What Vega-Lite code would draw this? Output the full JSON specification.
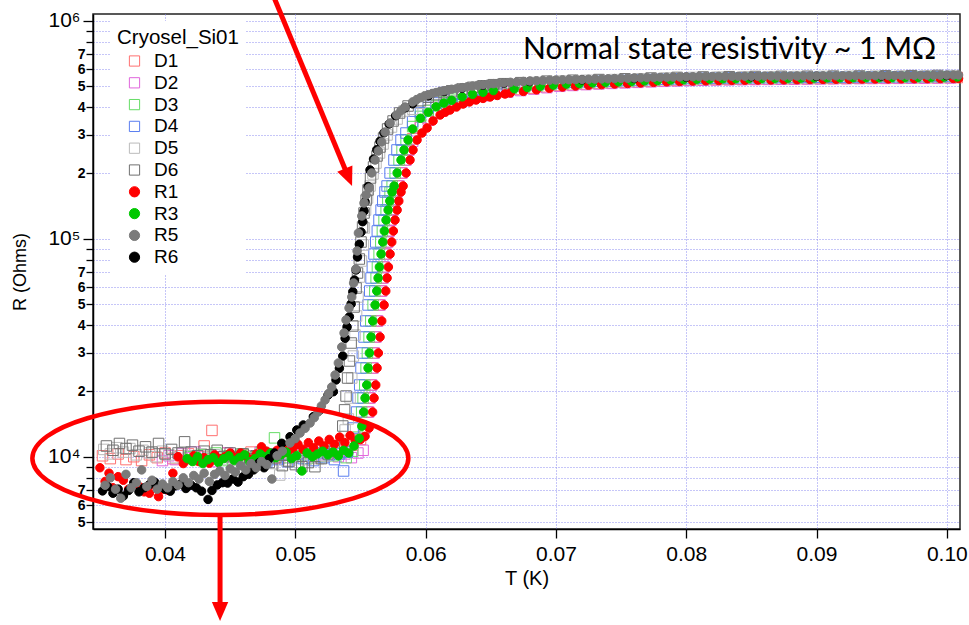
{
"$schema":"https://vega.github.io/schema/vega-lite/v6.json",
"width":867,"height":515,
"autosize":{"type":"none"},
"padding":{"left":93,"top":14,"right":9,"bottom":96},
"config":{"view":{"stroke":"#222","strokeWidth":1.5},"axis":{"labelFont":"Liberation Sans","titleFont":"Liberation Sans"}},
"encoding":{
"x":{"field":"t","type":"quantitative","scale":{"domain":[0.03447,0.10101],"nice":false,"zero":false},
"axis":{"values":[0.04,0.05,0.06,0.07,0.08,0.09,0.1],"format":".2f","title":"T (K)","labelFontSize":21,"labelColor":"#000","labelPadding":5,"labelFlush":false,"labelOverlap":false,"tickSize":9,"tickColor":"#000","tickWidth":1.3,"domainColor":"#000","domainWidth":1.5,"titleFontSize":20,"titleFontWeight":"normal","titleColor":"#000","titlePadding":4,"grid":true,"gridColor":"#8c8cf0","gridDash":[1,2],"gridWidth":1}},
"y":{"field":"r","type":"quantitative","scale":{"type":"log","domain":[4660,1073300],"nice":false},
"axis":{"values":[5000,6000,7000,8000,9000,10000,20000,30000,40000,50000,60000,70000,80000,90000,100000,200000,300000,400000,500000,600000,700000,800000,900000,1000000],
"labelExpr":"datum.value==10000?'10⁴':datum.value==100000?'10⁵':datum.value==1000000?'10⁶':(indexof('89',slice(format(datum.value,'d'),0,1))>=0?'':slice(format(datum.value,'d'),0,1))",
"labelFontSize":{"condition":{"test":"datum.value==10000||datum.value==100000||datum.value==1000000","value":21},"value":14},
"labelFontWeight":{"condition":{"test":"datum.value==10000||datum.value==100000||datum.value==1000000","value":"normal"},"value":"bold"},
"tickSize":{"condition":{"test":"datum.value==10000||datum.value==100000||datum.value==1000000","value":10},"value":7},
"labelPadding":{"condition":{"test":"datum.value==10000||datum.value==100000||datum.value==1000000","value":3},"value":1},
"labelColor":"#000","labelOverlap":false,"labelFlush":false,"tickColor":"#000","tickWidth":1.3,"domainColor":"#000","domainWidth":1.5,
"title":"R (Ohms)","titleFontSize":18,"titleFontWeight":"normal","titleColor":"#000","titlePadding":18,
"grid":true,"gridColor":"#8c8cf0","gridDash":[1,2],"gridWidth":1}}
},
"layer":[
{"data":{"values":[
{"s":"D1","t":0.0352,"r":10100},{"s":"D1","t":0.0358,"r":9800},{"s":"D1","t":0.0364,"r":10300},{"s":"D1","t":0.037,"r":9700},{"s":"D1","t":0.0376,"r":10000},{"s":"D1","t":0.0382,"r":9600},{"s":"D1","t":0.0388,"r":10200},{"s":"D1","t":0.0394,"r":9900},{"s":"D1","t":0.04,"r":10400},{"s":"D1","t":0.0406,"r":9800},{"s":"D1","t":0.0412,"r":10100},{"s":"D1","t":0.0418,"r":10300},{"s":"D1","t":0.0424,"r":9700},{"s":"D1","t":0.043,"r":11200},{"s":"D1","t":0.0436,"r":13200},{"s":"D1","t":0.0442,"r":10000},{"s":"D1","t":0.0448,"r":10400},{"s":"D1","t":0.0454,"r":9900},{"s":"D1","t":0.046,"r":10200},{"s":"D1","t":0.0466,"r":10500},{"s":"D1","t":0.0472,"r":10100},{"s":"D1","t":0.0478,"r":10300},{"s":"D1","t":0.0484,"r":9800},{"s":"D1","t":0.049,"r":10600},{"s":"D1","t":0.0496,"r":10200},{"s":"D1","t":0.0502,"r":10400},{"s":"D1","t":0.0508,"r":10700},{"s":"D1","t":0.0514,"r":10300},{"s":"D1","t":0.052,"r":10900},{"s":"D1","t":0.0526,"r":10500},{"s":"D1","t":0.0532,"r":11000},{"s":"D1","t":0.0538,"r":10600},{"s":"D1","t":0.0544,"r":11300},{"s":"D1","t":0.055,"r":12000},
{"s":"D1","t":0.05528,"r":13540},{"s":"D1","t":0.05555,"r":16030},{"s":"D1","t":0.05566,"r":18590},{"s":"D1","t":0.05579,"r":21330},{"s":"D1","t":0.05589,"r":25520},{"s":"D1","t":0.05599,"r":29900},{"s":"D1","t":0.05612,"r":35410},{"s":"D1","t":0.05625,"r":41940},{"s":"D1","t":0.05643,"r":49660},{"s":"D1","t":0.05656,"r":57560},{"s":"D1","t":0.05666,"r":66030},{"s":"D1","t":0.05676,"r":74180},{"s":"D1","t":0.05689,"r":85080},{"s":"D1","t":0.05702,"r":96580},{"s":"D1","t":0.05714,"r":108500},{"s":"D1","t":0.05727,"r":121800},{"s":"D1","t":0.05743,"r":135400},{"s":"D1","t":0.05756,"r":148900},{"s":"D1","t":0.05773,"r":163800},{"s":"D1","t":0.05789,"r":174500},{"s":"D1","t":0.05812,"r":200200},{"s":"D1","t":0.05842,"r":229600},{"s":"D1","t":0.05865,"r":255300},
{"s":"D1","t":0.059,"r":287100},{"s":"D1","t":0.0596,"r":329600},{"s":"D1","t":0.0602,"r":355600},{"s":"D1","t":0.0608,"r":381400},{"s":"D1","t":0.0614,"r":399800},{"s":"D1","t":0.062,"r":413900},{"s":"D1","t":0.0628,"r":431700},{"s":"D1","t":0.0636,"r":445000},{"s":"D1","t":0.0644,"r":455900},{"s":"D1","t":0.0652,"r":465200},
{"s":"D1","t":0.066,"r":476300},{"s":"D1","t":0.067,"r":483500},{"s":"D1","t":0.068,"r":490700},{"s":"D1","t":0.069,"r":497400},{"s":"D1","t":0.07,"r":504200},{"s":"D1","t":0.071,"r":508300},{"s":"D1","t":0.072,"r":512500},{"s":"D1","t":0.073,"r":515600},{"s":"D1","t":0.074,"r":518600},{"s":"D1","t":0.075,"r":521400},{"s":"D1","t":0.076,"r":524300},{"s":"D1","t":0.077,"r":527000},{"s":"D1","t":0.078,"r":529800},{"s":"D1","t":0.079,"r":532000},{"s":"D1","t":0.08,"r":534300},{"s":"D1","t":0.081,"r":535600},{"s":"D1","t":0.082,"r":537000},{"s":"D1","t":0.083,"r":537900},{"s":"D1","t":0.084,"r":538800},{"s":"D1","t":0.085,"r":539500},{"s":"D1","t":0.086,"r":540100},{"s":"D1","t":0.087,"r":540800},{"s":"D1","t":0.088,"r":541400},{"s":"D1","t":0.089,"r":542100},{"s":"D1","t":0.09,"r":542700},{"s":"D1","t":0.091,"r":543400},{"s":"D1","t":0.092,"r":544000},{"s":"D1","t":0.093,"r":544500},{"s":"D1","t":0.094,"r":545000},{"s":"D1","t":0.095,"r":545400},{"s":"D1","t":0.096,"r":545900},{"s":"D1","t":0.097,"r":546400},{"s":"D1","t":0.098,"r":547000},{"s":"D1","t":0.099,"r":547500},{"s":"D1","t":0.1,"r":548000},{"s":"D1","t":0.1008,"r":548400},
{"s":"D2","t":0.0398,"r":9600},{"s":"D2","t":0.0403,"r":10100},{"s":"D2","t":0.0408,"r":9700},{"s":"D2","t":0.0413,"r":10300},{"s":"D2","t":0.0418,"r":9900},{"s":"D2","t":0.0423,"r":10500},{"s":"D2","t":0.0428,"r":9800},{"s":"D2","t":0.0433,"r":10200},{"s":"D2","t":0.0438,"r":9500},{"s":"D2","t":0.0443,"r":10000},{"s":"D2","t":0.0448,"r":10400},{"s":"D2","t":0.0453,"r":9900},{"s":"D2","t":0.0458,"r":10300},{"s":"D2","t":0.0463,"r":9700},{"s":"D2","t":0.0468,"r":10100},{"s":"D2","t":0.0473,"r":10500},{"s":"D2","t":0.0478,"r":10000},{"s":"D2","t":0.0483,"r":10300},{"s":"D2","t":0.0488,"r":9800},{"s":"D2","t":0.0493,"r":10200},{"s":"D2","t":0.0498,"r":10600},{"s":"D2","t":0.0503,"r":10000},{"s":"D2","t":0.0508,"r":10400},{"s":"D2","t":0.0513,"r":9900},{"s":"D2","t":0.0518,"r":10300},{"s":"D2","t":0.0523,"r":10100},{"s":"D2","t":0.0528,"r":10500},{"s":"D2","t":0.0533,"r":10000},{"s":"D2","t":0.0538,"r":10300},{"s":"D2","t":0.0543,"r":9900},{"s":"D2","t":0.0548,"r":10400},{"s":"D2","t":0.0552,"r":10700},
{"s":"D2","t":0.05535,"r":13540},{"s":"D2","t":0.05562,"r":16030},{"s":"D2","t":0.05573,"r":18590},{"s":"D2","t":0.05586,"r":21330},{"s":"D2","t":0.05596,"r":25520},{"s":"D2","t":0.05606,"r":29900},{"s":"D2","t":0.05619,"r":35410},{"s":"D2","t":0.05632,"r":41940},{"s":"D2","t":0.0565,"r":49660},{"s":"D2","t":0.05663,"r":57560},{"s":"D2","t":0.05673,"r":66030},{"s":"D2","t":0.05683,"r":74180},{"s":"D2","t":0.05696,"r":85080},{"s":"D2","t":0.05709,"r":96580},{"s":"D2","t":0.05721,"r":108500},{"s":"D2","t":0.05734,"r":121800},{"s":"D2","t":0.0575,"r":135400},{"s":"D2","t":0.05763,"r":148900},{"s":"D2","t":0.0578,"r":163800},{"s":"D2","t":0.05796,"r":174500},{"s":"D2","t":0.05819,"r":200200},{"s":"D2","t":0.05849,"r":229600},{"s":"D2","t":0.05872,"r":255300},
{"s":"D2","t":0.059,"r":279700},{"s":"D2","t":0.0596,"r":323200},{"s":"D2","t":0.0602,"r":349600},{"s":"D2","t":0.0608,"r":376200},{"s":"D2","t":0.0614,"r":395100},{"s":"D2","t":0.062,"r":409500},{"s":"D2","t":0.0628,"r":428000},{"s":"D2","t":0.0636,"r":441600},{"s":"D2","t":0.0644,"r":452700},{"s":"D2","t":0.0652,"r":462200},
{"s":"D2","t":0.0663,"r":470600},{"s":"D2","t":0.0673,"r":478100},{"s":"D2","t":0.0683,"r":485600},{"s":"D2","t":0.0693,"r":492900},{"s":"D2","t":0.0703,"r":500100},{"s":"D2","t":0.0713,"r":504600},{"s":"D2","t":0.0723,"r":509100},{"s":"D2","t":0.0733,"r":512300},{"s":"D2","t":0.0743,"r":515600},{"s":"D2","t":0.0753,"r":518500},{"s":"D2","t":0.0763,"r":521400},{"s":"D2","t":0.0773,"r":524200},{"s":"D2","t":0.0783,"r":527100},{"s":"D2","t":0.0793,"r":529400},{"s":"D2","t":0.0803,"r":531800},{"s":"D2","t":0.0813,"r":533200},{"s":"D2","t":0.0823,"r":534600},{"s":"D2","t":0.0833,"r":535500},{"s":"D2","t":0.0843,"r":536500},{"s":"D2","t":0.0853,"r":537200},{"s":"D2","t":0.0863,"r":537900},{"s":"D2","t":0.0873,"r":538600},{"s":"D2","t":0.0883,"r":539200},{"s":"D2","t":0.0893,"r":540000},{"s":"D2","t":0.0903,"r":540600},{"s":"D2","t":0.0913,"r":541300},{"s":"D2","t":0.0923,"r":542000},{"s":"D2","t":0.0933,"r":542500},{"s":"D2","t":0.0943,"r":543000},{"s":"D2","t":0.0953,"r":543500},{"s":"D2","t":0.0963,"r":543900},{"s":"D2","t":0.0973,"r":544500},{"s":"D2","t":0.0983,"r":545000},{"s":"D2","t":0.0993,"r":545500},{"s":"D2","t":0.1003,"r":546000},
{"s":"D3","t":0.0419,"r":10000},{"s":"D3","t":0.0424,"r":9700},{"s":"D3","t":0.0429,"r":10200},{"s":"D3","t":0.0434,"r":9800},{"s":"D3","t":0.0439,"r":10400},{"s":"D3","t":0.0444,"r":9600},{"s":"D3","t":0.0449,"r":10100},{"s":"D3","t":0.0454,"r":9900},{"s":"D3","t":0.0459,"r":10300},{"s":"D3","t":0.0464,"r":9700},{"s":"D3","t":0.0469,"r":10000},{"s":"D3","t":0.0474,"r":10500},{"s":"D3","t":0.0479,"r":9800},{"s":"D3","t":0.0484,"r":12200},{"s":"D3","t":0.0489,"r":10200},{"s":"D3","t":0.0494,"r":9900},{"s":"D3","t":0.0499,"r":10400},{"s":"D3","t":0.0504,"r":10100},{"s":"D3","t":0.0509,"r":9800},{"s":"D3","t":0.0514,"r":10300},{"s":"D3","t":0.0519,"r":10000},{"s":"D3","t":0.0524,"r":10500},{"s":"D3","t":0.0529,"r":10100},{"s":"D3","t":0.0534,"r":10400},{"s":"D3","t":0.0539,"r":9900},{"s":"D3","t":0.0544,"r":10600},{"s":"D3","t":0.0548,"r":12300},
{"s":"D3","t":0.05509,"r":16030},{"s":"D3","t":0.0552,"r":18590},{"s":"D3","t":0.05533,"r":21330},{"s":"D3","t":0.05543,"r":25520},{"s":"D3","t":0.05553,"r":29900},{"s":"D3","t":0.05566,"r":35410},{"s":"D3","t":0.05579,"r":41940},{"s":"D3","t":0.05597,"r":49660},{"s":"D3","t":0.0561,"r":57560},{"s":"D3","t":0.0562,"r":66030},{"s":"D3","t":0.0563,"r":74180},{"s":"D3","t":0.05643,"r":85080},{"s":"D3","t":0.05656,"r":96580},{"s":"D3","t":0.05668,"r":108500},{"s":"D3","t":0.05681,"r":121800},{"s":"D3","t":0.05697,"r":135400},{"s":"D3","t":0.0571,"r":148900},{"s":"D3","t":0.05727,"r":163800},{"s":"D3","t":0.05743,"r":174500},{"s":"D3","t":0.05766,"r":200200},{"s":"D3","t":0.05796,"r":229600},{"s":"D3","t":0.05819,"r":255300},{"s":"D3","t":0.0585,"r":283700},
{"s":"D3","t":0.059,"r":326900},{"s":"D3","t":0.0596,"r":363900},{"s":"D3","t":0.0602,"r":386800},{"s":"D3","t":0.0608,"r":408300},{"s":"D3","t":0.0614,"r":424000},{"s":"D3","t":0.062,"r":436200},{"s":"D3","t":0.0628,"r":451200},{"s":"D3","t":0.0636,"r":463000},{"s":"D3","t":0.0644,"r":472800},{"s":"D3","t":0.0652,"r":481000},
{"s":"D3","t":0.0666,"r":490600},{"s":"D3","t":0.0676,"r":497000},{"s":"D3","t":0.0686,"r":503400},{"s":"D3","t":0.0696,"r":508900},{"s":"D3","t":0.0706,"r":514300},{"s":"D3","t":0.0716,"r":517700},{"s":"D3","t":0.0726,"r":521000},{"s":"D3","t":0.0736,"r":523600},{"s":"D3","t":0.0746,"r":526300},{"s":"D3","t":0.0756,"r":528900},{"s":"D3","t":0.0766,"r":531500},{"s":"D3","t":0.0776,"r":534000},{"s":"D3","t":0.0786,"r":536500},{"s":"D3","t":0.0796,"r":538500},{"s":"D3","t":0.0806,"r":540500},{"s":"D3","t":0.0816,"r":541800},{"s":"D3","t":0.0826,"r":543000},{"s":"D3","t":0.0836,"r":543800},{"s":"D3","t":0.0846,"r":544500},{"s":"D3","t":0.0856,"r":545200},{"s":"D3","t":0.0866,"r":545800},{"s":"D3","t":0.0876,"r":546300},{"s":"D3","t":0.0886,"r":546800},{"s":"D3","t":0.0896,"r":547400},{"s":"D3","t":0.0906,"r":547900},{"s":"D3","t":0.0916,"r":548500},{"s":"D3","t":0.0926,"r":549000},{"s":"D3","t":0.0936,"r":549500},{"s":"D3","t":0.0946,"r":549900},{"s":"D3","t":0.0956,"r":550400},{"s":"D3","t":0.0966,"r":550800},{"s":"D3","t":0.0976,"r":551400},{"s":"D3","t":0.0986,"r":551900},{"s":"D3","t":0.0996,"r":552500},{"s":"D3","t":0.1006,"r":553000},
{"s":"D4","t":0.047,"r":9600},{"s":"D4","t":0.0474,"r":9900},{"s":"D4","t":0.0478,"r":9400},{"s":"D4","t":0.0482,"r":10100},{"s":"D4","t":0.0486,"r":9700},{"s":"D4","t":0.049,"r":10200},{"s":"D4","t":0.0494,"r":9500},{"s":"D4","t":0.0498,"r":9900},{"s":"D4","t":0.0502,"r":10300},{"s":"D4","t":0.0506,"r":9800},{"s":"D4","t":0.051,"r":10100},{"s":"D4","t":0.0514,"r":9600},{"s":"D4","t":0.0518,"r":10400},{"s":"D4","t":0.0522,"r":9900},{"s":"D4","t":0.0526,"r":10200},{"s":"D4","t":0.053,"r":9700},{"s":"D4","t":0.0534,"r":10300},{"s":"D4","t":0.0537,"r":8600},{"s":"D4","t":0.054,"r":10500},
{"s":"D4","t":0.05443,"r":13540},{"s":"D4","t":0.0547,"r":16030},{"s":"D4","t":0.05481,"r":18590},{"s":"D4","t":0.05494,"r":21330},{"s":"D4","t":0.05504,"r":25520},{"s":"D4","t":0.05514,"r":29900},{"s":"D4","t":0.05527,"r":35410},{"s":"D4","t":0.0554,"r":41940},{"s":"D4","t":0.05558,"r":49660},{"s":"D4","t":0.05571,"r":57560},{"s":"D4","t":0.05581,"r":66030},{"s":"D4","t":0.05591,"r":74180},{"s":"D4","t":0.05604,"r":85080},{"s":"D4","t":0.05617,"r":96580},{"s":"D4","t":0.05629,"r":108500},{"s":"D4","t":0.05642,"r":121800},{"s":"D4","t":0.05658,"r":135400},{"s":"D4","t":0.05671,"r":148900},{"s":"D4","t":0.05688,"r":163800},{"s":"D4","t":0.05704,"r":174500},{"s":"D4","t":0.05727,"r":200200},{"s":"D4","t":0.05757,"r":229600},{"s":"D4","t":0.0578,"r":255300},{"s":"D4","t":0.05811,"r":283700},{"s":"D4","t":0.05849,"r":305300},
{"s":"D4","t":0.059,"r":344400},{"s":"D4","t":0.0596,"r":378600},{"s":"D4","t":0.0602,"r":400100},{"s":"D4","t":0.0608,"r":419700},{"s":"D4","t":0.0614,"r":434200},{"s":"D4","t":0.062,"r":445600},{"s":"D4","t":0.0628,"r":459300},{"s":"D4","t":0.0636,"r":470400},{"s":"D4","t":0.0644,"r":479800},{"s":"D4","t":0.0652,"r":487400},
{"s":"D4","t":0.0662,"r":496300},{"s":"D4","t":0.0672,"r":502400},{"s":"D4","t":0.0682,"r":508500},{"s":"D4","t":0.0692,"r":513400},{"s":"D4","t":0.0702,"r":518400},{"s":"D4","t":0.0712,"r":521400},{"s":"D4","t":0.0722,"r":524400},{"s":"D4","t":0.0732,"r":526800},{"s":"D4","t":0.0742,"r":529300},{"s":"D4","t":0.0752,"r":531800},{"s":"D4","t":0.0762,"r":534400},{"s":"D4","t":0.0772,"r":536800},{"s":"D4","t":0.0782,"r":539200},{"s":"D4","t":0.0792,"r":541100},{"s":"D4","t":0.0802,"r":543000},{"s":"D4","t":0.0812,"r":544200},{"s":"D4","t":0.0822,"r":545400},{"s":"D4","t":0.0832,"r":546100},{"s":"D4","t":0.0842,"r":546800},{"s":"D4","t":0.0852,"r":547400},{"s":"D4","t":0.0862,"r":548000},{"s":"D4","t":0.0872,"r":548500},{"s":"D4","t":0.0882,"r":548900},{"s":"D4","t":0.0892,"r":549500},{"s":"D4","t":0.0902,"r":550000},{"s":"D4","t":0.0912,"r":550500},{"s":"D4","t":0.0922,"r":551000},{"s":"D4","t":0.0932,"r":551400},{"s":"D4","t":0.0942,"r":551900},{"s":"D4","t":0.0952,"r":552300},{"s":"D4","t":0.0962,"r":552800},{"s":"D4","t":0.0972,"r":553300},{"s":"D4","t":0.0982,"r":553900},{"s":"D4","t":0.0992,"r":554400},{"s":"D4","t":0.1002,"r":555000},
{"s":"D5","t":0.0353,"r":10800},{"s":"D5","t":0.0358,"r":10300},{"s":"D5","t":0.0363,"r":11000},{"s":"D5","t":0.0368,"r":10500},{"s":"D5","t":0.0373,"r":10900},{"s":"D5","t":0.0378,"r":10200},{"s":"D5","t":0.0383,"r":10700},{"s":"D5","t":0.0388,"r":10400},{"s":"D5","t":0.0393,"r":10000},{"s":"D5","t":0.0398,"r":10600},{"s":"D5","t":0.0403,"r":10200},{"s":"D5","t":0.0408,"r":9900},{"s":"D5","t":0.0413,"r":10400},{"s":"D5","t":0.0418,"r":10100},{"s":"D5","t":0.0423,"r":9800},{"s":"D5","t":0.0428,"r":10300},{"s":"D5","t":0.0433,"r":9900},{"s":"D5","t":0.0438,"r":10200},{"s":"D5","t":0.0443,"r":9700},{"s":"D5","t":0.0448,"r":10000},{"s":"D5","t":0.0453,"r":9600},{"s":"D5","t":0.0458,"r":9900},{"s":"D5","t":0.0463,"r":9500},{"s":"D5","t":0.0468,"r":9800},{"s":"D5","t":0.0473,"r":9400},{"s":"D5","t":0.0478,"r":9700},{"s":"D5","t":0.0483,"r":9300},{"s":"D5","t":0.0488,"r":8240},{"s":"D5","t":0.0493,"r":9600},{"s":"D5","t":0.0498,"r":9900},{"s":"D5","t":0.0503,"r":9400},{"s":"D5","t":0.0508,"r":9700},{"s":"D5","t":0.0513,"r":10000},{"s":"D5","t":0.0518,"r":9800},{"s":"D5","t":0.0523,"r":10100},{"s":"D5","t":0.0528,"r":10400},{"s":"D5","t":0.0533,"r":10800},
{"s":"D5","t":0.05382,"r":13260},{"s":"D5","t":0.05407,"r":14890},{"s":"D5","t":0.0542,"r":18590},{"s":"D5","t":0.05433,"r":22960},{"s":"D5","t":0.05445,"r":28960},{"s":"D5","t":0.05458,"r":36160},{"s":"D5","t":0.0547,"r":44200},{"s":"D5","t":0.05481,"r":54030},{"s":"D5","t":0.05491,"r":66740},{"s":"D5","t":0.05507,"r":79030},{"s":"D5","t":0.05522,"r":93560},{"s":"D5","t":0.0553,"r":112000},{"s":"D5","t":0.05539,"r":135400},{"s":"D5","t":0.05554,"r":153700},{"s":"D5","t":0.05573,"r":174500},{"s":"D5","t":0.05596,"r":198100},{"s":"D5","t":0.05619,"r":222400},{"s":"D5","t":0.05646,"r":247300},{"s":"D5","t":0.05673,"r":271900},{"s":"D5","t":0.05704,"r":299100},{"s":"D5","t":0.05738,"r":325300},{"s":"D5","t":0.05781,"r":354100},{"s":"D5","t":0.05834,"r":385300},
{"s":"D5","t":0.059,"r":392500},{"s":"D5","t":0.0596,"r":418000},{"s":"D5","t":0.0602,"r":435200},{"s":"D5","t":0.0608,"r":449300},{"s":"D5","t":0.0614,"r":460500},{"s":"D5","t":0.062,"r":469600},{"s":"D5","t":0.0628,"r":480100},{"s":"D5","t":0.0636,"r":489300},{"s":"D5","t":0.0644,"r":497500},{"s":"D5","t":0.0652,"r":503900},
{"s":"D5","t":0.0665,"r":510600},{"s":"D5","t":0.0685,"r":521200},{"s":"D5","t":0.0705,"r":528500},{"s":"D5","t":0.0725,"r":532900},{"s":"D5","t":0.0745,"r":536900},{"s":"D5","t":0.0765,"r":541700},{"s":"D5","t":0.0785,"r":546000},{"s":"D5","t":0.0805,"r":549300},{"s":"D5","t":0.0825,"r":551400},{"s":"D5","t":0.0845,"r":552600},{"s":"D5","t":0.0865,"r":553600},{"s":"D5","t":0.0885,"r":554300},{"s":"D5","t":0.0905,"r":555200},{"s":"D5","t":0.0925,"r":556000},{"s":"D5","t":0.0945,"r":556800},{"s":"D5","t":0.0965,"r":557700},{"s":"D5","t":0.0985,"r":558800},{"s":"D5","t":0.1005,"r":560000},
{"s":"D6","t":0.0355,"r":11200},{"s":"D6","t":0.036,"r":10700},{"s":"D6","t":0.0365,"r":11500},{"s":"D6","t":0.037,"r":10900},{"s":"D6","t":0.0375,"r":11300},{"s":"D6","t":0.038,"r":10600},{"s":"D6","t":0.0385,"r":11100},{"s":"D6","t":0.039,"r":10500},{"s":"D6","t":0.0395,"r":11500},{"s":"D6","t":0.04,"r":10300},{"s":"D6","t":0.0405,"r":10800},{"s":"D6","t":0.041,"r":10400},{"s":"D6","t":0.0415,"r":11700},{"s":"D6","t":0.042,"r":10500},{"s":"D6","t":0.0425,"r":10100},{"s":"D6","t":0.043,"r":10600},{"s":"D6","t":0.0435,"r":10200},{"s":"D6","t":0.044,"r":10700},{"s":"D6","t":0.0445,"r":10000},{"s":"D6","t":0.045,"r":10400},{"s":"D6","t":0.0455,"r":9900},{"s":"D6","t":0.046,"r":10300},{"s":"D6","t":0.0465,"r":9800},{"s":"D6","t":0.047,"r":10100},{"s":"D6","t":0.0475,"r":9700},{"s":"D6","t":0.048,"r":9400},{"s":"D6","t":0.0485,"r":9900},{"s":"D6","t":0.049,"r":9100},{"s":"D6","t":0.0495,"r":9500},{"s":"D6","t":0.05,"r":9200},{"s":"D6","t":0.0505,"r":9000},{"s":"D6","t":0.051,"r":9400},{"s":"D6","t":0.0515,"r":9000},{"s":"D6","t":0.052,"r":9800},{"s":"D6","t":0.0525,"r":10300},{"s":"D6","t":0.053,"r":11200},
{"s":"D6","t":0.05364,"r":13830},{"s":"D6","t":0.05378,"r":16400},{"s":"D6","t":0.05389,"r":18980},{"s":"D6","t":0.05401,"r":22960},{"s":"D6","t":0.05415,"r":27480},{"s":"D6","t":0.05428,"r":33230},{"s":"D6","t":0.05441,"r":39770},{"s":"D6","t":0.05451,"r":48600},{"s":"D6","t":0.05466,"r":59400},{"s":"D6","t":0.05477,"r":69610},{"s":"D6","t":0.05491,"r":80690},{"s":"D6","t":0.05504,"r":96580},{"s":"D6","t":0.05516,"r":113200},{"s":"D6","t":0.05527,"r":131200},{"s":"D6","t":0.05543,"r":150500},{"s":"D6","t":0.05558,"r":167300},{"s":"D6","t":0.05577,"r":189900},{"s":"D6","t":0.056,"r":213300},{"s":"D6","t":0.05627,"r":239600},{"s":"D6","t":0.0565,"r":263400},{"s":"D6","t":0.05677,"r":289700},{"s":"D6","t":0.05708,"r":318600},{"s":"D6","t":0.0575,"r":346700},{"s":"D6","t":0.058,"r":377300},{"s":"D6","t":0.05865,"r":406100},
{"s":"D6","t":0.0596,"r":429700},{"s":"D6","t":0.0602,"r":445700},{"s":"D6","t":0.0608,"r":457900},{"s":"D6","t":0.0614,"r":468300},{"s":"D6","t":0.062,"r":476700},{"s":"D6","t":0.0628,"r":486100},{"s":"D6","t":0.0636,"r":494800},{"s":"D6","t":0.0644,"r":502700},{"s":"D6","t":0.0652,"r":508700},{"s":"D6","t":0.066,"r":514100},
{"s":"D6","t":0.0673,"r":519700},{"s":"D6","t":0.0693,"r":528000},{"s":"D6","t":0.0713,"r":533300},{"s":"D6","t":0.0733,"r":537100},{"s":"D6","t":0.0753,"r":541300},{"s":"D6","t":0.0773,"r":545800},{"s":"D6","t":0.0793,"r":549400},{"s":"D6","t":0.0813,"r":552000},{"s":"D6","t":0.0833,"r":553600},{"s":"D6","t":0.0853,"r":554700},{"s":"D6","t":0.0873,"r":555500},{"s":"D6","t":0.0893,"r":556200},{"s":"D6","t":0.0913,"r":557000},{"s":"D6","t":0.0933,"r":557800},{"s":"D6","t":0.0953,"r":558600},{"s":"D6","t":0.0973,"r":559600},{"s":"D6","t":0.0993,"r":560800},
{"s":"R1","t":0.035,"r":8900},{"s":"R1","t":0.0354,"r":7700},{"s":"R1","t":0.0357,"r":8400},{"s":"R1","t":0.036,"r":7200},{"s":"R1","t":0.0364,"r":8100},{"s":"R1","t":0.0368,"r":7800},{"s":"R1","t":0.0372,"r":7100},{"s":"R1","t":0.0376,"r":7500},{"s":"R1","t":0.038,"r":7300},{"s":"R1","t":0.0384,"r":6900},{"s":"R1","t":0.0388,"r":6800},{"s":"R1","t":0.0392,"r":7400},{"s":"R1","t":0.0395,"r":6560},{"s":"R1","t":0.0398,"r":7100},{"s":"R1","t":0.0402,"r":7030},{"s":"R1","t":0.0406,"r":8400},{"s":"R1","t":0.041,"r":10000},{"s":"R1","t":0.0414,"r":9300},{"s":"R1","t":0.0418,"r":9700},{"s":"R1","t":0.0422,"r":10100},{"s":"R1","t":0.0426,"r":9500},{"s":"R1","t":0.043,"r":9900},{"s":"R1","t":0.0434,"r":9340},{"s":"R1","t":0.0438,"r":10200},{"s":"R1","t":0.0442,"r":9800},{"s":"R1","t":0.0446,"r":10000},{"s":"R1","t":0.045,"r":10400},{"s":"R1","t":0.0454,"r":9900},{"s":"R1","t":0.0458,"r":10400},{"s":"R1","t":0.0462,"r":10100},{"s":"R1","t":0.0466,"r":9700},{"s":"R1","t":0.047,"r":10300},{"s":"R1","t":0.0474,"r":11100},{"s":"R1","t":0.0478,"r":10600},{"s":"R1","t":0.0482,"r":10200},{"s":"R1","t":0.0486,"r":10700},{"s":"R1","t":0.049,"r":11200},{"s":"R1","t":0.0494,"r":10500},{"s":"R1","t":0.0498,"r":10900},{"s":"R1","t":0.0502,"r":11400},{"s":"R1","t":0.0506,"r":10800},{"s":"R1","t":0.051,"r":11600},{"s":"R1","t":0.0514,"r":11000},{"s":"R1","t":0.0518,"r":11800},{"s":"R1","t":0.0522,"r":11200},{"s":"R1","t":0.0526,"r":12000},{"s":"R1","t":0.053,"r":11400},{"s":"R1","t":0.0534,"r":12300},{"s":"R1","t":0.0538,"r":11600},{"s":"R1","t":0.0542,"r":12500},{"s":"R1","t":0.0546,"r":11800},{"s":"R1","t":0.055,"r":12000},
{"s":"R1","t":0.05535,"r":12400},{"s":"R1","t":0.05566,"r":13540},{"s":"R1","t":0.05593,"r":16030},{"s":"R1","t":0.05604,"r":18590},{"s":"R1","t":0.05617,"r":21330},{"s":"R1","t":0.05627,"r":25520},{"s":"R1","t":0.05637,"r":29900},{"s":"R1","t":0.0565,"r":35410},{"s":"R1","t":0.05663,"r":41940},{"s":"R1","t":0.05681,"r":49660},{"s":"R1","t":0.05694,"r":57560},{"s":"R1","t":0.05704,"r":66030},{"s":"R1","t":0.05714,"r":74180},{"s":"R1","t":0.05727,"r":85080},{"s":"R1","t":0.0574,"r":96580},{"s":"R1","t":0.05752,"r":108500},{"s":"R1","t":0.05765,"r":121800},{"s":"R1","t":0.05781,"r":135400},{"s":"R1","t":0.05794,"r":148900},{"s":"R1","t":0.05811,"r":163800},{"s":"R1","t":0.05827,"r":174500},{"s":"R1","t":0.0585,"r":200200},{"s":"R1","t":0.0588,"r":229600},{"s":"R1","t":0.05903,"r":255300},
{"s":"R1","t":0.05934,"r":283700},{"s":"R1","t":0.05972,"r":305300},{"s":"R1","t":0.06011,"r":321900},{"s":"R1","t":0.06057,"r":346700},{"s":"R1","t":0.06111,"r":369300},{"s":"R1","t":0.0615,"r":380000},{"s":"R1","t":0.06187,"r":389300},{"s":"R1","t":0.06237,"r":402000},{"s":"R1","t":0.06287,"r":414800},{"s":"R1","t":0.06337,"r":424000},{"s":"R1","t":0.06387,"r":432700},{"s":"R1","t":0.0644,"r":440000},{"s":"R1","t":0.06494,"r":446700},{"s":"R1","t":0.0655,"r":454000},{"s":"R1","t":0.06609,"r":461100},
{"s":"R1","t":0.0665,"r":466000},{"s":"R1","t":0.0675,"r":474000},{"s":"R1","t":0.0685,"r":482000},{"s":"R1","t":0.0695,"r":490000},{"s":"R1","t":0.0705,"r":496500},{"s":"R1","t":0.0715,"r":501500},{"s":"R1","t":0.0725,"r":505800},{"s":"R1","t":0.0735,"r":509300},{"s":"R1","t":0.0745,"r":512500},{"s":"R1","t":0.0755,"r":515500},{"s":"R1","t":0.0765,"r":518500},{"s":"R1","t":0.0775,"r":521500},{"s":"R1","t":0.0785,"r":524300},{"s":"R1","t":0.0795,"r":526800},{"s":"R1","t":0.0805,"r":528800},{"s":"R1","t":0.0815,"r":530300},{"s":"R1","t":0.0825,"r":531500},{"s":"R1","t":0.0835,"r":532500},{"s":"R1","t":0.0845,"r":533400},{"s":"R1","t":0.0855,"r":534200},{"s":"R1","t":0.0865,"r":534900},{"s":"R1","t":0.0875,"r":535700},{"s":"R1","t":0.0885,"r":536400},{"s":"R1","t":0.0895,"r":537200},{"s":"R1","t":0.0905,"r":537900},{"s":"R1","t":0.0915,"r":538700},{"s":"R1","t":0.0925,"r":539300},{"s":"R1","t":0.0935,"r":539800},{"s":"R1","t":0.0945,"r":540300},{"s":"R1","t":0.0955,"r":540800},{"s":"R1","t":0.0965,"r":541300},{"s":"R1","t":0.0975,"r":541800},{"s":"R1","t":0.0985,"r":542300},{"s":"R1","t":0.0995,"r":542800},{"s":"R1","t":0.1005,"r":543300},{"s":"R1","t":0.1009,"r":543500},
{"s":"R3","t":0.0417,"r":9800},{"s":"R3","t":0.0421,"r":9500},{"s":"R3","t":0.0425,"r":10000},{"s":"R3","t":0.0429,"r":9300},{"s":"R3","t":0.0433,"r":9700},{"s":"R3","t":0.0437,"r":9900},{"s":"R3","t":0.0441,"r":9400},{"s":"R3","t":0.0445,"r":9800},{"s":"R3","t":0.0449,"r":10100},{"s":"R3","t":0.0453,"r":9600},{"s":"R3","t":0.0457,"r":9900},{"s":"R3","t":0.0461,"r":10200},{"s":"R3","t":0.0465,"r":9500},{"s":"R3","t":0.0469,"r":9800},{"s":"R3","t":0.0473,"r":10300},{"s":"R3","t":0.0477,"r":10000},{"s":"R3","t":0.0481,"r":10400},{"s":"R3","t":0.0485,"r":9900},{"s":"R3","t":0.0489,"r":10200},{"s":"R3","t":0.0493,"r":10500},{"s":"R3","t":0.0497,"r":9800},{"s":"R3","t":0.0501,"r":10100},{"s":"R3","t":0.0505,"r":8600},{"s":"R3","t":0.0509,"r":10400},{"s":"R3","t":0.0513,"r":10000},{"s":"R3","t":0.0517,"r":10300},{"s":"R3","t":0.0521,"r":10600},{"s":"R3","t":0.0525,"r":10200},{"s":"R3","t":0.0529,"r":10500},{"s":"R3","t":0.0533,"r":10100},{"s":"R3","t":0.0537,"r":10700},{"s":"R3","t":0.0541,"r":10400},{"s":"R3","t":0.0545,"r":11200},{"s":"R3","t":0.0549,"r":12150},{"s":"R3","t":0.0551,"r":13800},
{"s":"R3","t":0.05524,"r":16030},{"s":"R3","t":0.05535,"r":18590},{"s":"R3","t":0.05548,"r":21330},{"s":"R3","t":0.05558,"r":25520},{"s":"R3","t":0.05568,"r":29900},{"s":"R3","t":0.05581,"r":35410},{"s":"R3","t":0.05594,"r":41940},{"s":"R3","t":0.05612,"r":49660},{"s":"R3","t":0.05625,"r":57560},{"s":"R3","t":0.05635,"r":66030},{"s":"R3","t":0.05645,"r":74180},{"s":"R3","t":0.05658,"r":85080},{"s":"R3","t":0.05671,"r":96580},{"s":"R3","t":0.05683,"r":108500},{"s":"R3","t":0.05696,"r":121800},{"s":"R3","t":0.05712,"r":135400},{"s":"R3","t":0.05725,"r":148900},{"s":"R3","t":0.05742,"r":163800},{"s":"R3","t":0.05758,"r":174500},{"s":"R3","t":0.05781,"r":200200},{"s":"R3","t":0.05811,"r":229600},{"s":"R3","t":0.05834,"r":255300},{"s":"R3","t":0.05865,"r":283700},
{"s":"R3","t":0.059,"r":318600},{"s":"R3","t":0.0596,"r":356800},{"s":"R3","t":0.0602,"r":380400},{"s":"R3","t":0.0608,"r":402800},{"s":"R3","t":0.0614,"r":419100},{"s":"R3","t":0.062,"r":431700},{"s":"R3","t":0.0628,"r":447300},{"s":"R3","t":0.0636,"r":459400},{"s":"R3","t":0.0644,"r":469500},{"s":"R3","t":0.0652,"r":477900},
{"s":"R3","t":0.0668,"r":487700},{"s":"R3","t":0.0678,"r":494300},{"s":"R3","t":0.0688,"r":500900},{"s":"R3","t":0.0698,"r":506600},{"s":"R3","t":0.0708,"r":512300},{"s":"R3","t":0.0718,"r":515800},{"s":"R3","t":0.0728,"r":519300},{"s":"R3","t":0.0738,"r":522000},{"s":"R3","t":0.0748,"r":524700},{"s":"R3","t":0.0758,"r":527400},{"s":"R3","t":0.0768,"r":530100},{"s":"R3","t":0.0778,"r":532600},{"s":"R3","t":0.0788,"r":535200},{"s":"R3","t":0.0798,"r":537200},{"s":"R3","t":0.0808,"r":539300},{"s":"R3","t":0.0818,"r":540500},{"s":"R3","t":0.0828,"r":541800},{"s":"R3","t":0.0838,"r":542600},{"s":"R3","t":0.0848,"r":543400},{"s":"R3","t":0.0858,"r":544000},{"s":"R3","t":0.0868,"r":544600},{"s":"R3","t":0.0878,"r":545200},{"s":"R3","t":0.0888,"r":545700},{"s":"R3","t":0.0898,"r":546300},{"s":"R3","t":0.0908,"r":546900},{"s":"R3","t":0.0918,"r":547400},{"s":"R3","t":0.0928,"r":548000},{"s":"R3","t":0.0938,"r":548500},{"s":"R3","t":0.0948,"r":548900},{"s":"R3","t":0.0958,"r":549400},{"s":"R3","t":0.0968,"r":549800},{"s":"R3","t":0.0978,"r":550400},{"s":"R3","t":0.0988,"r":550900},{"s":"R3","t":0.0998,"r":551500},{"s":"R3","t":0.1008,"r":552000},
{"s":"R6","t":0.0352,"r":6970},{"s":"R6","t":0.0356,"r":7300},{"s":"R6","t":0.036,"r":6800},{"s":"R6","t":0.0364,"r":7100},{"s":"R6","t":0.0368,"r":6600},{"s":"R6","t":0.0372,"r":7000},{"s":"R6","t":0.0376,"r":7600},{"s":"R6","t":0.038,"r":6900},{"s":"R6","t":0.0384,"r":7200},{"s":"R6","t":0.0388,"r":7450},{"s":"R6","t":0.0392,"r":7650},{"s":"R6","t":0.0396,"r":7300},{"s":"R6","t":0.04,"r":7100},{"s":"R6","t":0.0404,"r":6950},{"s":"R6","t":0.0408,"r":7350},{"s":"R6","t":0.0412,"r":7500},{"s":"R6","t":0.0416,"r":7150},{"s":"R6","t":0.042,"r":7400},{"s":"R6","t":0.0424,"r":7200},{"s":"R6","t":0.0428,"r":6950},{"s":"R6","t":0.0433,"r":6370},{"s":"R6","t":0.0436,"r":7000},{"s":"R6","t":0.044,"r":7420},{"s":"R6","t":0.0444,"r":7600},{"s":"R6","t":0.0448,"r":7570},{"s":"R6","t":0.0452,"r":7900},{"s":"R6","t":0.0456,"r":7650},{"s":"R6","t":0.046,"r":8100},{"s":"R6","t":0.0464,"r":8300},{"s":"R6","t":0.0468,"r":8700},{"s":"R6","t":0.0472,"r":9370},{"s":"R6","t":0.0476,"r":8900},{"s":"R6","t":0.048,"r":9800},{"s":"R6","t":0.0484,"r":10400},
{"s":"R6","t":0.04896,"r":11520},{"s":"R6","t":0.04959,"r":12350},{"s":"R6","t":0.05011,"r":13260},{"s":"R6","t":0.05061,"r":13980},{"s":"R6","t":0.05138,"r":15260},{"s":"R6","t":0.0519,"r":16400},{"s":"R6","t":0.05251,"r":19190},{"s":"R6","t":0.05292,"r":19870},{"s":"R6","t":0.05312,"r":22500},{"s":"R6","t":0.05338,"r":25440},{"s":"R6","t":0.05364,"r":28960},{"s":"R6","t":0.05382,"r":34930},{"s":"R6","t":0.05397,"r":39360},{"s":"R6","t":0.05415,"r":43870},{"s":"R6","t":0.05428,"r":50180},{"s":"R6","t":0.05441,"r":57130},{"s":"R6","t":0.05454,"r":64660},{"s":"R6","t":0.05466,"r":71900},{"s":"R6","t":0.05477,"r":82450},{"s":"R6","t":0.05491,"r":94250},{"s":"R6","t":0.05504,"r":107300},{"s":"R6","t":0.05517,"r":119700},{"s":"R6","t":0.05527,"r":134000},{"s":"R6","t":0.05535,"r":147800},{"s":"R6","t":0.05558,"r":173600},{"s":"R6","t":0.05573,"r":206600},{"s":"R6","t":0.056,"r":232000},{"s":"R6","t":0.05625,"r":256000},{"s":"R6","t":0.0565,"r":280000},{"s":"R6","t":0.0568,"r":306000},{"s":"R6","t":0.0572,"r":336000},{"s":"R6","t":0.0577,"r":366000},{"s":"R6","t":0.0584,"r":398000},
{"s":"R6","t":0.059,"r":415500},{"s":"R6","t":0.0602,"r":451700},{"s":"R6","t":0.0614,"r":472700},{"s":"R6","t":0.0628,"r":489600},{"s":"R6","t":0.0644,"r":505700},{"s":"R6","t":0.066,"r":516600},{"s":"R6","t":0.068,"r":526000},{"s":"R6","t":0.072,"r":535500},{"s":"R6","t":0.076,"r":543300},{"s":"R6","t":0.08,"r":550200},{"s":"R6","t":0.085,"r":553700},{"s":"R6","t":0.09,"r":555500},{"s":"R6","t":0.095,"r":557400},{"s":"R6","t":0.1,"r":560200},
{"s":"R5","t":0.0354,"r":7400},{"s":"R5","t":0.0358,"r":8000},{"s":"R5","t":0.0362,"r":7100},{"s":"R5","t":0.0366,"r":6450},{"s":"R5","t":0.037,"r":8300},{"s":"R5","t":0.0374,"r":7200},{"s":"R5","t":0.0378,"r":7600},{"s":"R5","t":0.0382,"r":8700},{"s":"R5","t":0.0386,"r":7300},{"s":"R5","t":0.039,"r":7800},{"s":"R5","t":0.0394,"r":7100},{"s":"R5","t":0.0398,"r":7500},{"s":"R5","t":0.0402,"r":7200},{"s":"R5","t":0.0406,"r":7700},{"s":"R5","t":0.041,"r":7400},{"s":"R5","t":0.0414,"r":8000},{"s":"R5","t":0.0418,"r":7600},{"s":"R5","t":0.0422,"r":8200},{"s":"R5","t":0.0426,"r":7900},{"s":"R5","t":0.043,"r":8400},{"s":"R5","t":0.0434,"r":7700},{"s":"R5","t":0.0438,"r":8300},{"s":"R5","t":0.0442,"r":8600},{"s":"R5","t":0.0446,"r":8200},{"s":"R5","t":0.045,"r":8800},{"s":"R5","t":0.0454,"r":8500},{"s":"R5","t":0.0458,"r":9100},{"s":"R5","t":0.0462,"r":8700},{"s":"R5","t":0.0466,"r":9300},{"s":"R5","t":0.047,"r":8900},{"s":"R5","t":0.0474,"r":9500},{"s":"R5","t":0.0478,"r":9200},{"s":"R5","t":0.0482,"r":7900},{"s":"R5","t":0.0486,"r":10100},{"s":"R5","t":0.049,"r":10600},
{"s":"R5","t":0.04959,"r":11560},{"s":"R5","t":0.04998,"r":12100},{"s":"R5","t":0.05036,"r":12840},{"s":"R5","t":0.05075,"r":13500},{"s":"R5","t":0.05113,"r":14280},{"s":"R5","t":0.05145,"r":15100},{"s":"R5","t":0.05174,"r":16030},{"s":"R5","t":0.052,"r":17100},{"s":"R5","t":0.05228,"r":18200},{"s":"R5","t":0.05255,"r":19500},{"s":"R5","t":0.05279,"r":20880},{"s":"R5","t":0.05305,"r":23700},{"s":"R5","t":0.0533,"r":26910},{"s":"R5","t":0.05356,"r":31860},{"s":"R5","t":0.05374,"r":36930},{"s":"R5","t":0.05389,"r":42400},{"s":"R5","t":0.05412,"r":48110},{"s":"R5","t":0.05433,"r":54030},{"s":"R5","t":0.05447,"r":62630},{"s":"R5","t":0.05464,"r":72610},{"s":"R5","t":0.05474,"r":87840},{"s":"R5","t":0.05484,"r":106200},{"s":"R5","t":0.0551,"r":127100},{"s":"R5","t":0.05527,"r":145800},{"s":"R5","t":0.05543,"r":158700},{"s":"R5","t":0.05566,"r":170900},{"s":"R5","t":0.05586,"r":200200},{"s":"R5","t":0.05612,"r":229600},{"s":"R5","t":0.05637,"r":252600},{"s":"R5","t":0.05663,"r":277700},{"s":"R5","t":0.05689,"r":308600},{"s":"R5","t":0.05727,"r":339500},{"s":"R5","t":0.05778,"r":369300},{"s":"R5","t":0.0581,"r":386000},{"s":"R5","t":0.05842,"r":401900},
{"s":"R5","t":0.059,"r":424200},{"s":"R5","t":0.0593,"r":434000},{"s":"R5","t":0.0596,"r":443500},{"s":"R5","t":0.0599,"r":451000},{"s":"R5","t":0.0602,"r":457800},{"s":"R5","t":0.0605,"r":463000},{"s":"R5","t":0.0608,"r":468100},{"s":"R5","t":0.0611,"r":473000},{"s":"R5","t":0.0614,"r":477200},{"s":"R5","t":0.0617,"r":481000},{"s":"R5","t":0.062,"r":484700},{"s":"R5","t":0.0624,"r":489000},{"s":"R5","t":0.0628,"r":493100},{"s":"R5","t":0.0632,"r":497300},{"s":"R5","t":0.0636,"r":501200},{"s":"R5","t":0.064,"r":505000},{"s":"R5","t":0.0644,"r":508600},{"s":"R5","t":0.0648,"r":511500},{"s":"R5","t":0.0652,"r":514200},{"s":"R5","t":0.0656,"r":516800},
{"s":"R5","t":0.066,"r":519200},{"s":"R5","t":0.0665,"r":521600},{"s":"R5","t":0.067,"r":524000},{"s":"R5","t":0.0675,"r":526400},{"s":"R5","t":0.068,"r":528800},{"s":"R5","t":0.0685,"r":530200},{"s":"R5","t":0.069,"r":531700},{"s":"R5","t":0.0695,"r":533100},{"s":"R5","t":0.07,"r":534600},{"s":"R5","t":0.0705,"r":535400},{"s":"R5","t":0.071,"r":536300},{"s":"R5","t":0.0715,"r":537100},{"s":"R5","t":0.072,"r":538000},{"s":"R5","t":0.0725,"r":538800},{"s":"R5","t":0.073,"r":539700},{"s":"R5","t":0.0735,"r":540600},{"s":"R5","t":0.074,"r":541500},{"s":"R5","t":0.0745,"r":542600},{"s":"R5","t":0.075,"r":543700},{"s":"R5","t":0.0755,"r":544800},{"s":"R5","t":0.076,"r":546000},{"s":"R5","t":0.0765,"r":547000},{"s":"R5","t":0.077,"r":548000},{"s":"R5","t":0.0775,"r":549000},{"s":"R5","t":0.078,"r":550000},{"s":"R5","t":0.0785,"r":550700},{"s":"R5","t":0.079,"r":551500},{"s":"R5","t":0.0795,"r":552200},{"s":"R5","t":0.08,"r":553000},{"s":"R5","t":0.0805,"r":553500},{"s":"R5","t":0.081,"r":554000},{"s":"R5","t":0.0815,"r":554500},{"s":"R5","t":0.082,"r":555000},{"s":"R5","t":0.0825,"r":555200},{"s":"R5","t":0.083,"r":555500},{"s":"R5","t":0.0835,"r":555700},{"s":"R5","t":0.084,"r":556000},{"s":"R5","t":0.0845,"r":556200},{"s":"R5","t":0.085,"r":556500},{"s":"R5","t":0.0855,"r":556700},{"s":"R5","t":0.086,"r":557000},{"s":"R5","t":0.0865,"r":557100},{"s":"R5","t":0.087,"r":557300},{"s":"R5","t":0.0875,"r":557400},{"s":"R5","t":0.088,"r":557500},{"s":"R5","t":0.0885,"r":557700},{"s":"R5","t":0.089,"r":557900},{"s":"R5","t":0.0895,"r":558100},{"s":"R5","t":0.09,"r":558300},{"s":"R5","t":0.0905,"r":558400},{"s":"R5","t":0.091,"r":558600},{"s":"R5","t":0.0915,"r":558800},{"s":"R5","t":0.092,"r":559000},{"s":"R5","t":0.0925,"r":559200},{"s":"R5","t":0.093,"r":559400},{"s":"R5","t":0.0935,"r":559600},{"s":"R5","t":0.094,"r":559800},{"s":"R5","t":0.0945,"r":560000},{"s":"R5","t":0.095,"r":560200},{"s":"R5","t":0.0955,"r":560400},{"s":"R5","t":0.096,"r":560600},{"s":"R5","t":0.0965,"r":560900},{"s":"R5","t":0.097,"r":561200},{"s":"R5","t":0.0975,"r":561500},{"s":"R5","t":0.098,"r":561800},{"s":"R5","t":0.0985,"r":562100},{"s":"R5","t":0.099,"r":562400},{"s":"R5","t":0.0995,"r":562700},{"s":"R5","t":0.1,"r":563000},{"s":"R5","t":0.1005,"r":563300},{"s":"R5","t":0.1009,"r":563500}
]},
"mark":{"type":"point","filled":true,"opacity":1,"strokeWidth":1},
"encoding":{
"stroke":{"field":"s","type":"nominal","scale":{"domain":["D1","D2","D3","D4","D5","D6","R1","R3","R5","R6"],"range":["#ff7070","#e066dc","#66dd66","#5a7ef0","#bbbbbb","#707070","#ff0000","#00c800","#7a7a7a","#000000"]},
"legend":{"title":"Cryosel_Si01","orient":"none","legendX":17,"legendY":7,"padding":7,"fillColor":"#ffffff","titleFont":"Liberation Sans","titleFontSize":20.5,"titleFontWeight":"normal","titleColor":"#000","titlePadding":3,"labelFont":"Liberation Sans","labelFontSize":19,"labelColor":"#000","labelOffset":10,"symbolOffset":8,"rowPadding":1.8,"symbolSize":105,"symbolStrokeWidth":1}},
"fill":{"field":"s","type":"nominal","scale":{"domain":["D1","D2","D3","D4","D5","D6","R1","R3","R5","R6"],"range":["transparent","transparent","transparent","transparent","transparent","transparent","#ff0000","#00c800","#7a7a7a","#000000"]},
"legend":{"title":"Cryosel_Si01","orient":"none","legendX":17,"legendY":7,"padding":7,"fillColor":"#ffffff","titleFont":"Liberation Sans","titleFontSize":20.5,"titleFontWeight":"normal","titleColor":"#000","titlePadding":3,"labelFont":"Liberation Sans","labelFontSize":19,"labelColor":"#000","labelOffset":10,"symbolOffset":8,"rowPadding":1.8,"symbolSize":105,"symbolStrokeWidth":1}},
"shape":{"field":"s","type":"nominal","scale":{"domain":["D1","D2","D3","D4","D5","D6","R1","R3","R5","R6"],"range":["square","square","square","square","square","square","circle","circle","circle","circle"]},
"legend":{"title":"Cryosel_Si01","orient":"none","legendX":17,"legendY":7,"padding":7,"fillColor":"#ffffff","titleFont":"Liberation Sans","titleFontSize":20.5,"titleFontWeight":"normal","titleColor":"#000","titlePadding":3,"labelFont":"Liberation Sans","labelFontSize":19,"labelColor":"#000","labelOffset":10,"symbolOffset":8,"rowPadding":1.8,"symbolSize":105,"symbolStrokeWidth":1}},
"size":{"condition":{"test":"indexof(datum.s,'D')==0","value":110},"value":72}
}},
{"data":{"values":[{"t":0.044244,"r":9832}]},
"mark":{"type":"point","shape":"M1,0C1,0.1664,0.5523,0.3013,0,0.3013C-0.5523,0.3013,-1,0.1664,-1,0C-1,-0.1664,-0.5523,-0.3013,0,-0.3013C0.5523,-0.3013,1,-0.1664,1,0Z","size":141376,"filled":false,"color":"#ff0000","strokeWidth":4.5,"opacity":1}},
{"data":{"values":[{"t":0.04827,"r":1319000,"t2":0.054044,"r2":193300},{"t":0.044221,"r":5460,"t2":0.044221,"r2":1970}]},
"mark":{"type":"rule","color":"#ff0000","strokeWidth":5},
"encoding":{"x2":{"field":"t2"},"y2":{"field":"r2"}}},
{"data":{"values":[{"t":0.054044,"r":193300,"a":-22.5},{"t":0.044221,"r":1970,"a":0}]},
"mark":{"type":"point","shape":"M0,1L-0.78,-0.8L0.78,-0.8Z","size":441,"filled":true,"color":"#ff0000","opacity":1,"strokeWidth":0},
"encoding":{"angle":{"field":"a","type":"quantitative","scale":null}}},
{"data":{"values":[{"t":0.06747,"r":665000,"label":"Normal state resistivity ~ 1 MΩ"}]},
"mark":{"type":"text","font":"Lato","fontSize":30,"align":"left","baseline":"alphabetic","color":"#000"},
"encoding":{"text":{"field":"label"}}}
]
}
